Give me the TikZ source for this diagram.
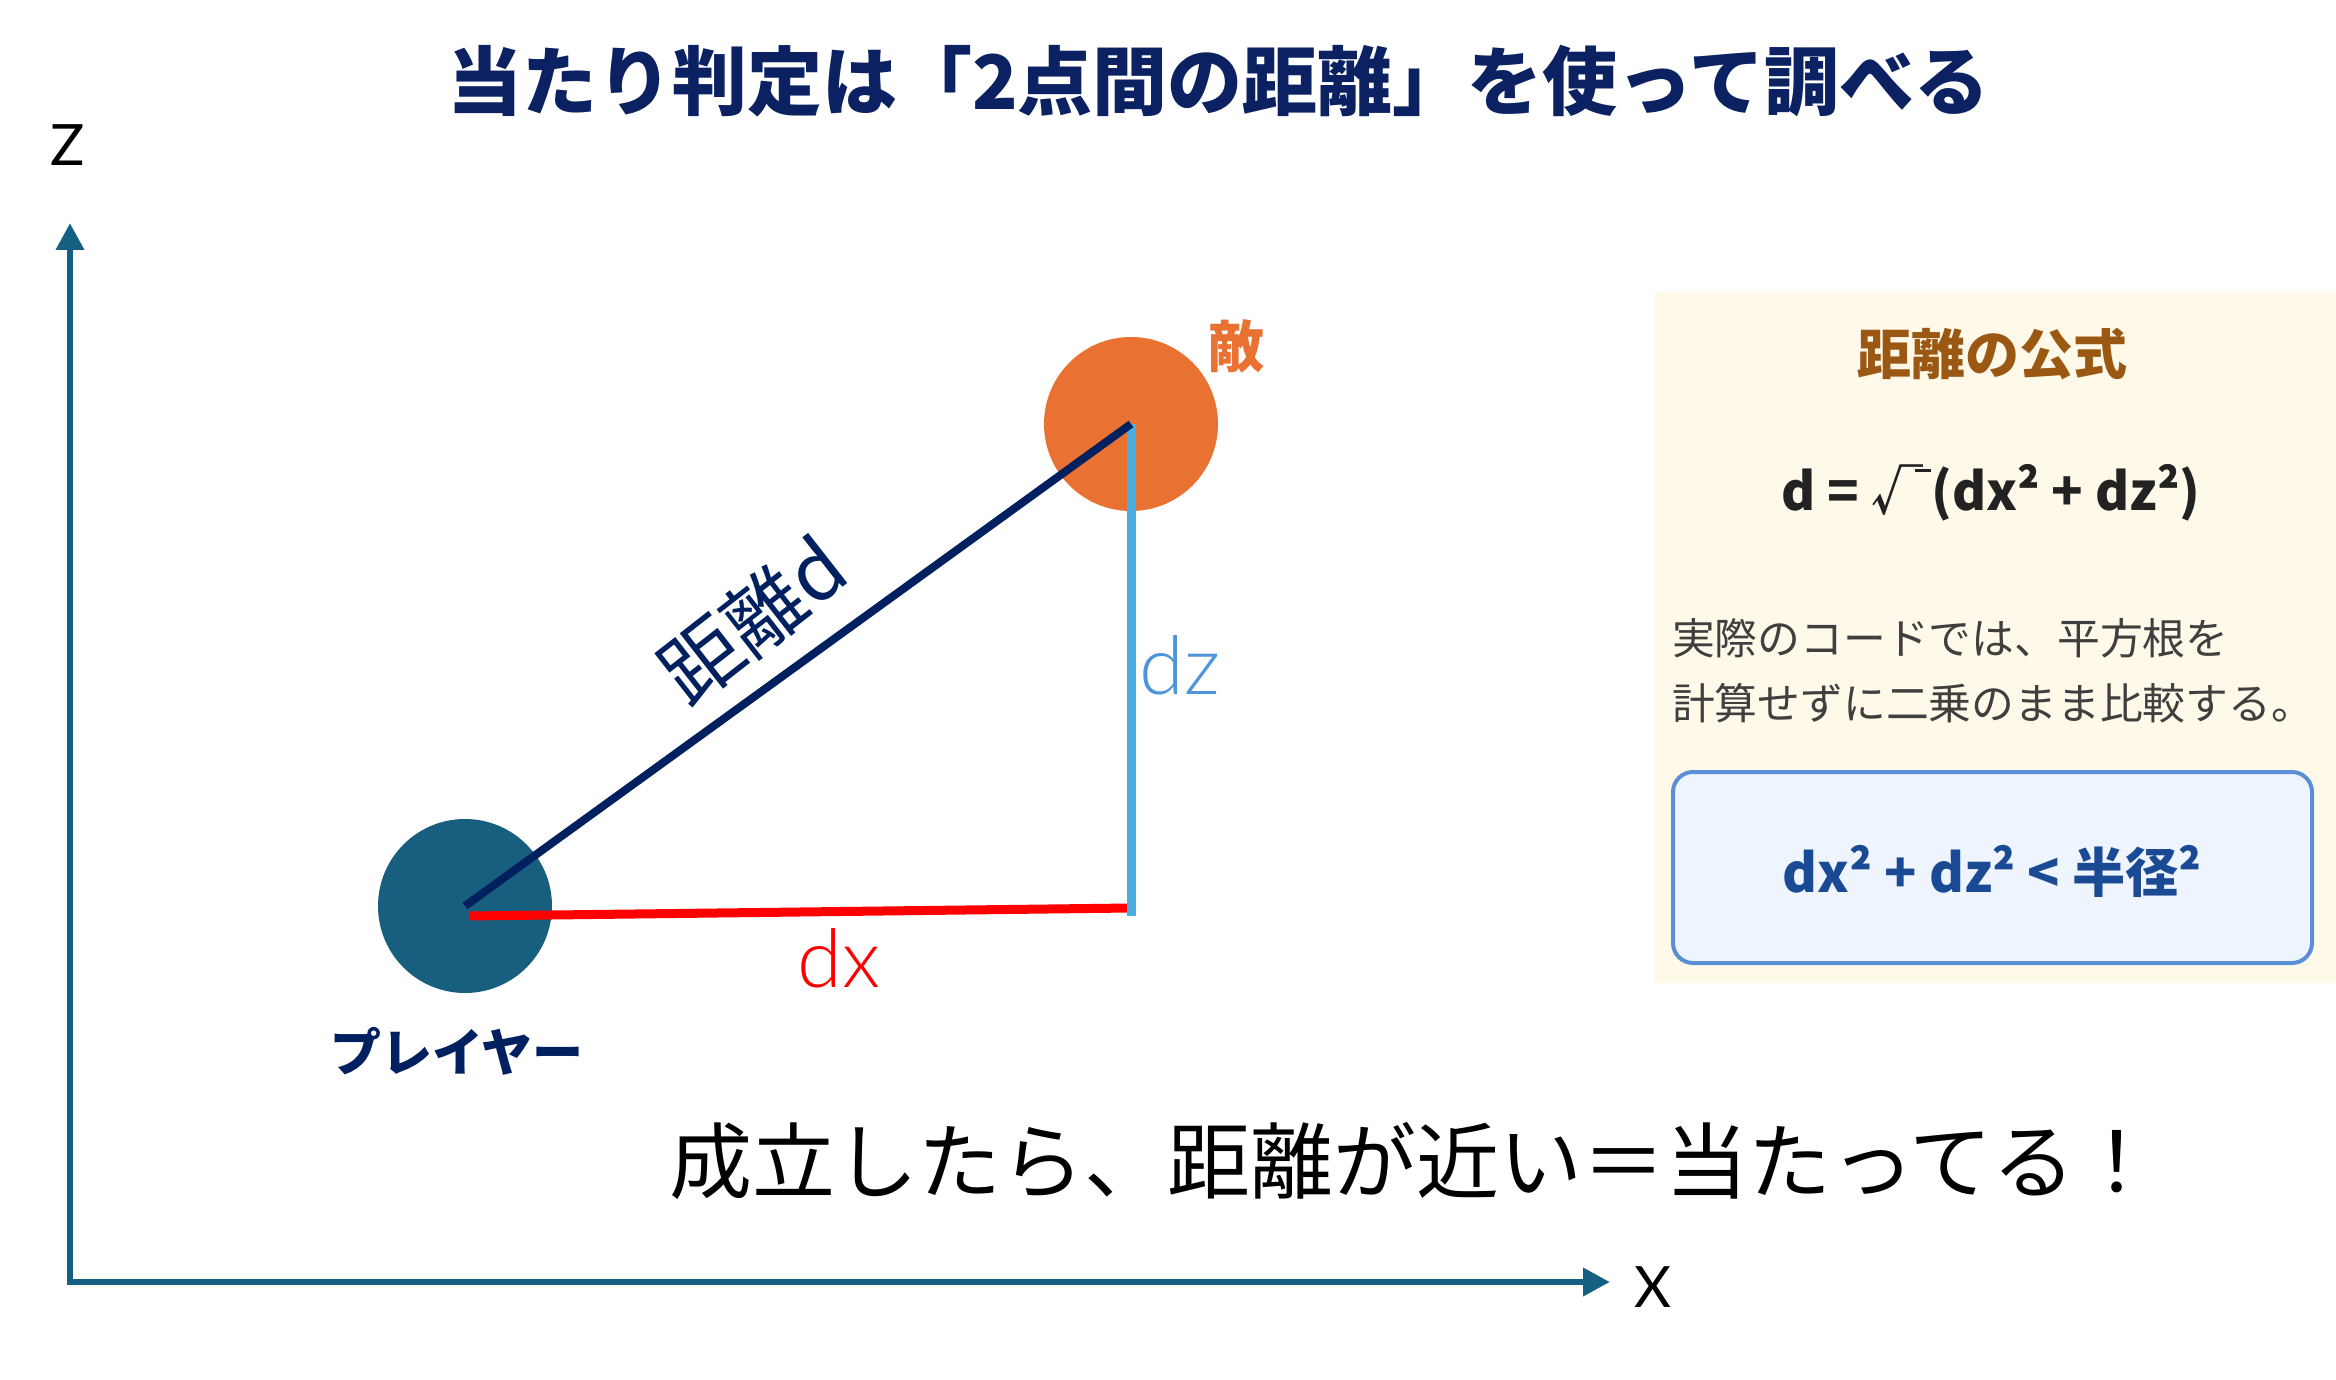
\documentclass[tikz,border=0pt]{standalone}
\usepackage{fontspec}
\setmainfont{Noto Sans CJK JP}
\newfontfamily\jp{Noto Sans CJK JP}
\newfontfamily\thinf{Lato Light}
\newfontfamily\latinf{Lato}
\usetikzlibrary{arrows.meta}

\definecolor{navy}{HTML}{002060}
\definecolor{titleblue}{HTML}{0B2162}
\definecolor{axisc}{HTML}{156082}
\definecolor{playerc}{HTML}{185F7F}
\definecolor{enemyc}{HTML}{E97132}
\definecolor{dzline}{HTML}{4AAEE1}
\definecolor{dztext}{HTML}{4D94DA}
\definecolor{cream}{HTML}{FEF9E9}
\definecolor{boxfill}{HTML}{EEF5FE}
\definecolor{boxedge}{HTML}{5A8FD6}
\definecolor{brownt}{HTML}{9A5812}
\definecolor{formulat}{HTML}{222222}
\definecolor{grayt}{HTML}{3F3F3F}
\definecolor{condt}{HTML}{1B4A94}

\begin{document}
\begin{tikzpicture}[x=0.5pt,y=-0.5pt,
  axisline/.style={line width=3.35pt, draw=axisc, line cap=rect, -{Triangle[length=13.5pt,width=13.5pt]}},
  ball/.style={circle, inner sep=0pt, minimum size=87pt},
  lbl/.style={inner sep=0pt, outer sep=0pt},
  panelbox/.style={fill=cream, inner sep=0pt, minimum width=340.5pt, minimum height=346pt},
  condbox/.style={fill=boxfill, draw=boxedge, line width=2pt, rounded corners=10pt, inner sep=0pt, minimum width=319.5pt, minimum height=95.5pt},
  segd/.style={draw=navy, line width=4pt},
  segx/.style={draw=red, line width=4.5pt},
  segz/.style={draw=dzline, line width=4.5pt}
]
\useasboundingbox (0,0) rectangle (2336,1380);
\fill[white] (0,0) rectangle (2336,1380);

% title
\node[lbl, anchor=base, text=titleblue] (title) at (1218,110)
  {\fontsize{37.5}{45}\selectfont\bfseries 当たり判定は「2点間の距離」を使って調べる};

% axes
\coordinate (origin) at (70,1282);
\coordinate (ztip) at (70,223);
\coordinate (xtip) at (1610,1282);
\draw[axisline] (origin) -- (ztip);
\draw[axisline] (origin) -- (xtip);
\node[lbl] (zlabel) at (68,145) {\latinf\fontsize{28.5}{34}\selectfont Z};
\node[lbl] (xlabel) at (1653,1287) {\latinf\fontsize{28.5}{34}\selectfont X};

% objects
\node[ball, fill=playerc] (player) at (465,906) {};
\node[ball, fill=enemyc] (enemy) at (1131,424) {};
\coordinate (dxstart) at (469,916);
\coordinate (corner) at (1131,908);

\draw[segx] (dxstart) -- (corner);
\draw[segz] (enemy.center) -- ([yshift=-4pt]corner);
\draw[segd] (player.center) -- (enemy.center);

\node[lbl, anchor=base, text=enemyc] (enemylbl) at (1236,368)
  {\fontsize{28}{34}\selectfont\bfseries 敵};
\node[lbl, anchor=base, text=navy] (playerlbl) at (457,1071)
  {\fontsize{25.5}{30}\selectfont\bfseries プレイヤー};
\node[lbl, text=navy, rotate=38] (dlbl) at (752,620)
  {\fontsize{40}{46}\selectfont 距離d};
\node[lbl, anchor=base, text=red] (dxlbl) at (839,987)
  {\thinf\fontsize{40.5}{48}\selectfont dx};
\node[lbl, anchor=base, text=dztext] (dzlbl) at (1180,694)
  {\thinf\fontsize{40.5}{48}\selectfont dz};

% bottom text
\node[lbl, anchor=base] (result) at (1414,1192)
  {\fontsize{41.5}{50}\selectfont 成立したら、距離が近い＝当たってる！};

% formula panel
\node[panelbox] (panel) at (1995.5,637) {};
\node[lbl, anchor=base, text=brownt] (ptitle) at (1992,375)
  {\fontsize{27}{32}\selectfont\bfseries 距離の公式};
\node[lbl, anchor=base, text=formulat] (formula) at (1991,510)
  {\fontsize{26}{32}\selectfont\bfseries d = √\kern-0.16em\raisebox{0.74em}{\rule{0.32em}{0.045em}}(dx² + dz²)};
\node[lbl, anchor=base west, text=grayt] (note1) at (1672,654)
  {\fontsize{21.4}{26}\selectfont 実際のコードでは、平方根を};
\node[lbl, anchor=base west, text=grayt] (note2) at (1672,719)
  {\fontsize{21.4}{26}\selectfont 計算せずに二乗のまま比較する。};
\node[condbox] (cbox) at (1992.5,867.5) {};
\node[lbl, anchor=base, text=condt] (cond) at (1992,892)
  {\fontsize{26.6}{32}\selectfont\bfseries dx² + dz² < 半径²};
\end{tikzpicture}
\end{document}
